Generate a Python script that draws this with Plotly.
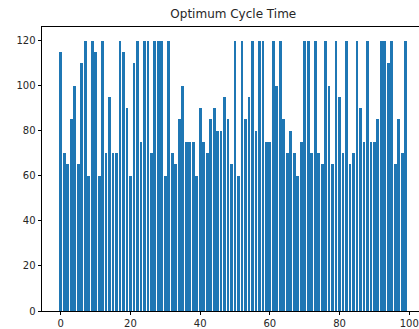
import plotly.graph_objects as go

title = "Optimum Cycle Time"
x_index = list(range(100))
cycle_time = [
    115, 70, 65, 85, 100, 65, 110, 120, 60, 120,
    115, 60, 120, 70, 95, 70, 70, 120, 115, 90,
    60, 110, 120, 75, 120, 120, 70, 120, 120, 120,
    60, 120, 70, 65, 85, 100, 75, 75, 75, 60,
    90, 75, 70, 85, 90, 80, 80, 95, 85, 65,
    120, 60, 120, 85, 95, 120, 80, 120, 120, 75,
    75, 120, 100, 120, 85, 70, 80, 70, 60, 75,
    120, 120, 70, 120, 70, 65, 120, 100, 65, 120,
    95, 70, 120, 65, 70, 120, 90, 75, 120, 75,
    75, 85, 120, 120, 110, 120, 65, 85, 70, 120,
]
x_ticks = [0, 20, 40, 60, 80, 100]
y_ticks = [0, 20, 40, 60, 80, 100, 120]

fig = go.Figure(
    go.Bar(
        x=x_index,
        y=cycle_time,
        width=0.8,
        marker=dict(color="#1f77b4", line=dict(width=0)),
    )
)

font = "DejaVu Sans, Arial, sans-serif"
fig.update_layout(
    width=419,
    height=329,
    margin=dict(l=42, r=0, t=27, b=18, autoexpand=False),
    paper_bgcolor="white",
    plot_bgcolor="white",
    showlegend=False,
    bargap=0,
    font=dict(family=font, size=10, color="#262626"),
    title=dict(
        text=title,
        x=(42 + 0.5 * (424.6 - 42)) / 419,
        xanchor="center",
        y=1 - 14 / 329,
        yanchor="middle",
        font=dict(family=font, size=12, color="#262626"),
    ),
)
fig.update_xaxes(
    range=[-5.39, 102.8],
    tickvals=x_ticks,
    ticktext=[str(v) for v in x_ticks],
    showgrid=False,
    zeroline=False,
    showline=True,
    mirror=True,
    linecolor="black",
    linewidth=0.8,
    ticks="outside",
    ticklen=3.5,
    tickwidth=0.8,
    tickcolor="black",
    automargin=False,
)
fig.update_yaxes(
    range=[0, 126],
    tickvals=y_ticks,
    ticktext=[str(v) for v in y_ticks],
    showgrid=False,
    zeroline=False,
    showline=True,
    mirror=False,
    linecolor="black",
    linewidth=0.8,
    ticks="outside",
    ticklen=3.5,
    tickwidth=0.8,
    tickcolor="black",
    automargin=False,
)

fig.write_html("out.html")
